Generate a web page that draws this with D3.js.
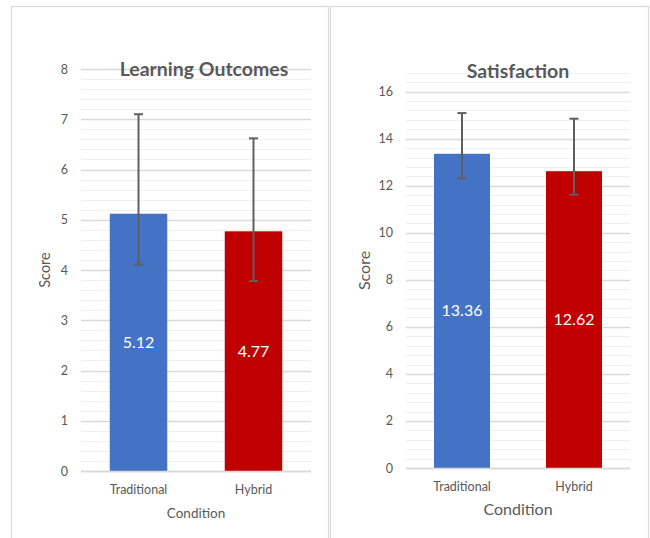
<!DOCTYPE html>
<html><head><meta charset="utf-8">
<script src="https://cdn.jsdelivr.net/npm/d3@7"></script>
<style>
html,body{margin:0;padding:0;background:#fff;}
svg text{font-family:Lato,"Open Sans",sans-serif;}
</style></head>
<body>
<svg id="c" width="650" height="538"></svg>
<script>
const categories = ["Traditional", "Hybrid"];
const learningMeans = [5.12, 4.77];
const learningUpper = [7.10, 6.62];
const learningLower = [4.11, 3.78];
const satisfactionMeans = [13.36, 12.62];
const satisfactionUpper = [15.09, 14.85];
const satisfactionLower = [12.32, 11.62];
const learningTicks = [0, 1, 2, 3, 4, 5, 6, 7, 8];
const satisfactionTicks = [0, 2, 4, 6, 8, 10, 12, 14, 16];
const colors = ["#4472C4", "#C00000"];

const svg = d3.select("#c");

function panel(cfg) {
  const g = svg.append("g");
  g.append("rect").attr("x", cfg.box[0]).attr("y", cfg.box[1])
    .attr("width", cfg.box[2]).attr("height", cfg.box[3])
    .attr("fill", "#fff").attr("stroke", "#d9d9d9").attr("stroke-width", 1.2);

  const x = d3.scaleBand().domain(categories).range([cfg.left, cfg.right]).paddingInner(0.5).paddingOuter(0.25);
  const y = d3.scaleLinear().domain([0, cfg.max]).range([cfg.bottom, cfg.top]);

  const minor = d3.range(0, cfg.max + 1e-9, cfg.minorStep);
  g.append("g").selectAll("line").data(minor).join("line")
    .attr("x1", cfg.left).attr("x2", cfg.right)
    .attr("y1", d => Math.round(y(d)) + 0.5).attr("y2", d => Math.round(y(d)) + 0.5)
    .attr("stroke", "#f0f0f0").attr("stroke-width", 1);
  g.append("g").selectAll("line").data(cfg.ticks).join("line")
    .attr("x1", cfg.left).attr("x2", cfg.right)
    .attr("y1", d => Math.round(y(d)) + 0.5).attr("y2", d => Math.round(y(d)) + 0.5)
    .attr("stroke", "#d9d9d9").attr("stroke-width", 1.3);

  const ya = g.append("g").attr("transform", `translate(${cfg.left},0)`)
    .call(d3.axisLeft(y).tickValues(cfg.ticks).tickSize(0).tickPadding(cfg.tickPad));
  ya.select(".domain").remove();
  ya.selectAll("text").attr("fill", "#595959").style("font-size", "12.5px").style("font-family", "Lato, sans-serif");

  const xa = g.append("g").attr("transform", `translate(0,${cfg.bottom})`)
    .call(d3.axisBottom(x).tickSize(0).tickPadding(cfg.xPad));
  xa.select(".domain").remove();
  xa.selectAll("text").attr("fill", "#595959").style("font-size", "12.5px").style("font-family", "Lato, sans-serif");

  g.append("g").selectAll("rect").data(cfg.means).join("rect")
    .attr("x", (d, i) => x(categories[i])).attr("width", x.bandwidth())
    .attr("y", d => y(d)).attr("height", d => y(0) - y(d))
    .attr("fill", (d, i) => colors[i]);

  g.append("line").attr("x1", cfg.left).attr("x2", cfg.right)
    .attr("y1", Math.round(y(0)) + 0.5).attr("y2", Math.round(y(0)) + 0.5)
    .attr("stroke", "#d9d9d9").attr("stroke-width", 1.3);

  const eb = g.append("g").attr("stroke", "#5f5f5f").attr("stroke-width", 2);
  cfg.means.forEach((m, i) => {
    const cx = x(categories[i]) + x.bandwidth() / 2;
    eb.append("line").attr("x1", cx).attr("x2", cx).attr("y1", y(cfg.upper[i])).attr("y2", y(cfg.lower[i]));
    [cfg.upper[i], cfg.lower[i]].forEach(v => {
      eb.append("line").attr("x1", cx - 4.5).attr("x2", cx + 4.5).attr("y1", y(v)).attr("y2", y(v));
    });
  });

  g.append("g").selectAll("text").data(cfg.means).join("text")
    .attr("x", (d, i) => x(categories[i]) + x.bandwidth() / 2)
    .attr("y", d => (y(d) + y(0)) / 2)
    .attr("dy", "0.35em").attr("text-anchor", "middle")
    .attr("fill", "#fff").style("font-size", "16px")
    .text(d => d.toFixed(2));

  g.append("text").attr("x", cfg.titleX).attr("y", cfg.titleY)
    .attr("text-anchor", "middle").attr("fill", "#595959")
    .style("font-size", cfg.titleSize).style("font-weight", "bold")
    .text(cfg.title);

  g.append("text").attr("transform", `translate(${cfg.yTitleX},${(cfg.top + cfg.bottom) / 2}) rotate(-90)`)
    .attr("text-anchor", "middle").attr("fill", "#595959").style("font-size", cfg.yTitleSize)
    .text("Score");
  g.append("text").attr("x", (cfg.left + cfg.right) / 2).attr("y", cfg.xTitleY)
    .attr("text-anchor", "middle").attr("fill", "#595959").style("font-size", cfg.xTitleSize)
    .text("Condition");
}

panel({
  box: [11.5, 6.5, 317, 540],
  left: 81, right: 311, top: 69, bottom: 471, max: 8, minorStep: 0.2,
  ticks: learningTicks, means: learningMeans, upper: learningUpper, lower: learningLower,
  tickPad: 13, xPad: 14, title: "Learning Outcomes", titleX: 204, titleY: 76, titleSize: "19.5px",
  yTitleX: 50, yTitleSize: "14.5px", xTitleY: 518, xTitleSize: "13.5px"
});

panel({
  box: [330.5, 6.5, 318, 540],
  left: 406, right: 630, top: 468 - 23.52 * 16.8, bottom: 468, max: 16.8, minorStep: 0.4,
  ticks: satisfactionTicks, means: satisfactionMeans, upper: satisfactionUpper, lower: satisfactionLower,
  tickPad: 13, xPad: 14, title: "Satisfaction", titleX: 518, titleY: 78, titleSize: "19.5px",
  yTitleX: 370, yTitleSize: "16px", xTitleY: 515, xTitleSize: "16px"
});
</script>
</body></html>
